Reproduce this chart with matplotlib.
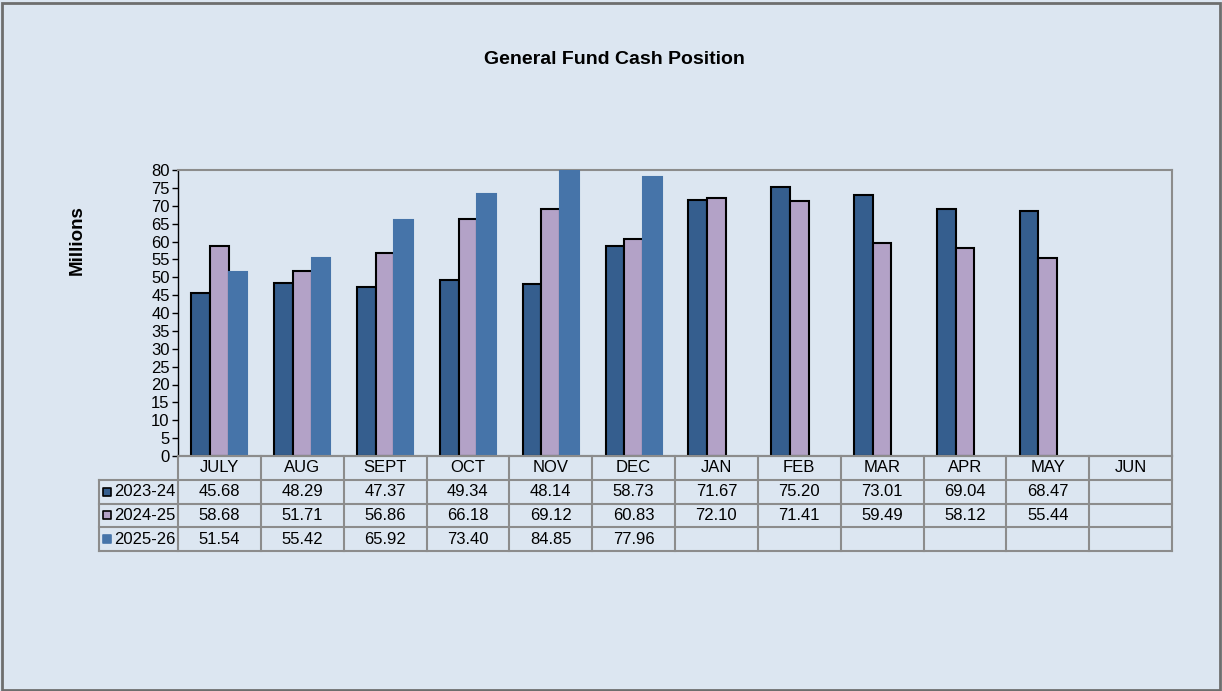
#!/usr/bin/env python3
"""General Fund Cash Position — grouped bars with a data table underneath."""

import matplotlib
matplotlib.use("Agg")
import matplotlib.pyplot as plt
import numpy as np

plt.rcParams["font.family"] = ["Liberation Sans", "DejaVu Sans"]

months = ["JULY", "AUG", "SEPT", "OCT", "NOV", "DEC", "JAN", "FEB", "MAR", "APR", "MAY", "JUN"]
series = ["2023-24", "2024-25", "2025-26"]
fy2324 = [45.68, 48.29, 47.37, 49.34, 48.14, 58.73, 71.67, 75.20, 73.01, 69.04, 68.47, None]
fy2425 = [58.68, 51.71, 56.86, 66.18, 69.12, 60.83, 72.10, 71.41, 59.49, 58.12, 55.44, None]
fy2526 = [51.54, 55.42, 65.92, 73.40, 84.85, 77.96, None, None, None, None, None, None]

colors = ["#355E8E", "#B3A2C7", "#4674A9"]
edges = ["black", "black", "#4674A9"]
BG = "#DCE6F1"
GRID = "#8C8C8C"
FS = 12

W, H = 1222, 691
fig = plt.figure(figsize=(W / 100, H / 100), dpi=100, facecolor=BG)


def px(x0, y0, x1, y1):
    # pixel box (top-left origin) -> figure fraction rect
    return [x0 / W, 1 - y1 / H, (x1 - x0) / W, (y1 - y0) / H]


ax = fig.add_axes(px(178, 170, 1172, 456))
ax.set_facecolor(BG)
x = np.arange(len(months))
bw = 0.225
for i, (vals, c, e) in enumerate(zip([fy2324, fy2425, fy2526], colors, edges)):
    v = np.array([np.nan if t is None else t for t in vals], dtype=float)
    ax.bar(x + (i - 1) * bw, v, bw, color=c, edgecolor=e, linewidth=1.5, zorder=3)
ax.set_xlim(-0.5, len(months) - 0.5)
ax.set_ylim(0, 80)
ax.set_yticks(range(0, 81, 5))
ax.tick_params(axis="y", labelsize=FS, length=4, width=1, direction="out", pad=2)
ax.set_xticks(np.arange(-0.5, len(months), 1))
ax.set_xticklabels([])
ax.tick_params(axis="x", length=0)
for s in ("top", "right", "bottom"):
    ax.spines[s].set_color(GRID)
    ax.spines[s].set_linewidth(1.5)
ax.spines["left"].set_color("black")
ax.spines["left"].set_linewidth(1)

fig.text(77 / W, 1 - 240 / H, "Millions", rotation=90, ha="center", va="center",
         fontsize=13.5, fontweight="bold")
fig.text(614 / W, 1 - 59 / H, "General Fund Cash Position", ha="center", va="center",
         fontsize=14, fontweight="bold")

# data table below the plot
tab = fig.add_axes(px(99, 456, 1172, 551))
tab.set_axis_off()
lab_w = 79 / ((1172 - 178) / len(months))
n = len(months)
tab.set_xlim(-lab_w, n)
tab.set_ylim(4, 0)
lw = 1.5
# horizontal lines
tab.plot([0, n], [0, 0], color=GRID, lw=lw, clip_on=False)
for r in range(1, 5):
    tab.plot([-lab_w, n], [r, r], color=GRID, lw=lw, clip_on=False)
# vertical lines
tab.plot([-lab_w, -lab_w], [1, 4], color=GRID, lw=lw, clip_on=False)
for c in range(n + 1):
    tab.plot([c, c], [0, 4], color=GRID, lw=lw, clip_on=False)
for j, m in enumerate(months):
    tab.text(j + 0.5, 0.5, m, ha="center", va="center", fontsize=FS)
for r, (name, vals) in enumerate(zip(series, [fy2324, fy2425, fy2526])):
    y = r + 1.5
    tab.text(-lab_w + 0.18, y, name, ha="left", va="center", fontsize=FS)
    tab.scatter([-lab_w + 0.1], [y], marker="s", s=34, color=colors[r],
                edgecolors=("black" if r < 2 else colors[r]), linewidths=1.2, clip_on=False)
    for j, v in enumerate(vals):
        if v is not None:
            tab.text(j + 0.5, y, f"{v:.2f}", ha="center", va="center", fontsize=FS)

# outer border of the chart area
fig.patches.append(plt.Rectangle((1.5 / W, 1.5 / H), (W - 4) / W, (H - 4) / H,
                                 transform=fig.transFigure, fill=False,
                                 edgecolor="#6E6E6E", linewidth=2))

fig.savefig("out.png", dpi=100, facecolor=BG)
